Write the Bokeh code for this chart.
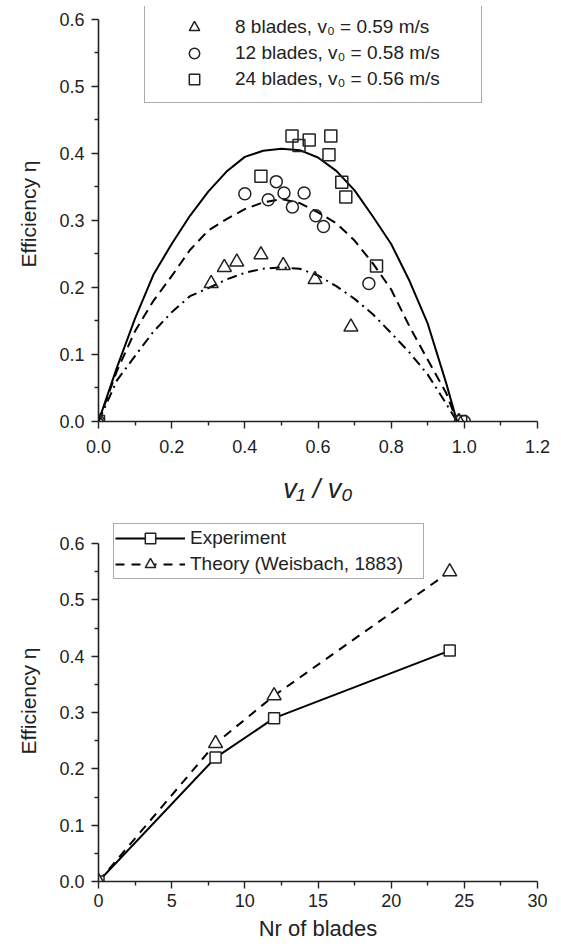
from bokeh.plotting import figure
from bokeh.layouts import column
from bokeh.models import FixedTicker, NumeralTickFormatter, Legend, LegendItem
from bokeh.embed import file_html
from bokeh.resources import INLINE

# ---------------- data: top panel (efficiency vs velocity ratio) ----------------
curve_x = [0.0, 0.05, 0.10, 0.15, 0.20, 0.25, 0.30, 0.35, 0.40, 0.45, 0.50,
           0.55, 0.60, 0.65, 0.70, 0.75, 0.80, 0.85, 0.90, 0.95, 0.98]
fit_24 = [0.0, 0.080, 0.154, 0.219, 0.265, 0.307, 0.343, 0.373, 0.395, 0.404, 0.407,
          0.405, 0.394, 0.374, 0.345, 0.306, 0.265, 0.210, 0.146, 0.058, 0.0]
fit_12 = [0.0, 0.075, 0.135, 0.180, 0.217, 0.256, 0.285, 0.302, 0.317, 0.327, 0.332,
          0.326, 0.312, 0.296, 0.270, 0.236, 0.197, 0.142, 0.092, 0.043, 0.0]
fit_8 = [0.0, 0.061, 0.098, 0.134, 0.163, 0.187, 0.199, 0.212, 0.222, 0.228, 0.230,
         0.228, 0.218, 0.202, 0.183, 0.160, 0.132, 0.103, 0.070, 0.027, 0.0]

tri_x = [0.0, 0.308, 0.344, 0.378, 0.444, 0.505, 0.592, 0.690, 0.985]
tri_y = [0.0, 0.206, 0.230, 0.238, 0.249, 0.233, 0.212, 0.141, 0.0]
circ_x = [0.0, 0.400, 0.464, 0.486, 0.507, 0.530, 0.562, 0.594, 0.615, 0.739, 1.0]
circ_y = [0.0, 0.340, 0.331, 0.358, 0.341, 0.320, 0.341, 0.307, 0.291, 0.206, 0.0]
sq_x = [0.0, 0.444, 0.529, 0.548, 0.576, 0.630, 0.635, 0.665, 0.676, 0.760, 0.99]
sq_y = [0.0, 0.366, 0.426, 0.412, 0.420, 0.398, 0.426, 0.357, 0.335, 0.232, 0.0]

series_labels = ["8 blades, v\u2080 = 0.59 m/s",
                 "12 blades, v\u2080 = 0.58 m/s",
                 "24 blades, v\u2080 = 0.56 m/s"]

top_x_ticks = [0.0, 0.2, 0.4, 0.6, 0.8, 1.0, 1.2]
top_x_minor = [0.1, 0.3, 0.5, 0.7, 0.9, 1.1]
eta_ticks = [0.0, 0.1, 0.2, 0.3, 0.4, 0.5, 0.6]
eta_minor = [0.05, 0.15, 0.25, 0.35, 0.45, 0.55]

# ---------------- data: bottom panel (efficiency vs number of blades) ----------------
blades = [0, 8, 12, 24]
eta_experiment = [0.0, 0.22, 0.29, 0.41]
eta_theory = [0.0, 0.245, 0.33, 0.55]
bottom_labels = ["Experiment", "Theory (Weisbach, 1883)"]
blade_ticks = [0, 5, 10, 15, 20, 25, 30]
blade_minor = [2.5, 7.5, 12.5, 17.5, 22.5, 27.5]

FONT = "Liberation Sans"
INK = "#222222"


def style(p, xt, xm, yt, ym, xfmt, yfmt, xb, yb):
    p.xgrid.visible = False
    p.ygrid.visible = False
    p.outline_line_color = None
    p.background_fill_color = "white"
    p.border_fill_color = "white"
    p.xaxis.ticker = FixedTicker(ticks=xt, minor_ticks=xm)
    p.yaxis.ticker = FixedTicker(ticks=yt, minor_ticks=ym)
    p.xaxis.formatter = NumeralTickFormatter(format=xfmt)
    p.yaxis.formatter = NumeralTickFormatter(format=yfmt)
    p.xaxis.bounds = xb
    p.yaxis.bounds = yb
    for ax in (p.xaxis, p.yaxis):
        ax.axis_line_color = INK
        ax.axis_line_width = 1.6
        ax.major_tick_line_color = INK
        ax.minor_tick_line_color = INK
        ax.major_tick_line_width = 1.4
        ax.minor_tick_line_width = 1.4
        ax.major_tick_in = 0
        ax.major_tick_out = 7
        ax.minor_tick_in = 0
        ax.minor_tick_out = 4
        ax.major_label_text_font = FONT
        ax.major_label_text_font_size = "18px"
        ax.major_label_text_color = INK
        ax.axis_label_text_font = FONT
        ax.axis_label_text_color = INK
        ax.axis_label_text_font_style = "normal"


# ---------------- top figure ----------------
p1 = figure(width=561, height=513, x_range=(0, 1.2), y_range=(0, 0.6194),
            output_backend="svg", toolbar_location=None,
            min_border_left=96, min_border_right=24, min_border_top=6,
            min_border_bottom=92)
style(p1, top_x_ticks, top_x_minor, eta_ticks, eta_minor, "0.0", "0.0",
      (0, 1.2), (0, 0.6))

p1.line(curve_x, fit_24, line_color="black", line_width=2)
p1.line(curve_x, fit_12, line_color="black", line_width=2, line_dash="10 6")
p1.line(curve_x, fit_8, line_color="black", line_width=2, line_dash="10 5 2 5")

r_tri = p1.scatter(tri_x, tri_y, marker="triangle", size=14, fill_color=None,
                   line_color=INK, line_width=1.5)
r_circ = p1.scatter(circ_x, circ_y, marker="circle", size=12, fill_color=None,
                    line_color=INK, line_width=1.5)
r_sq = p1.scatter(sq_x, sq_y, marker="square", size=12, fill_color=None,
                  line_color=INK, line_width=1.5)

p1.xaxis.axis_label = "v\u2081 / v\u2080"
p1.xaxis.axis_label_text_font_size = "27px"
p1.xaxis.axis_label_text_font_style = "italic"
p1.xaxis.major_label_standoff = 11
p1.xaxis.axis_label_standoff = 18
p1.yaxis.axis_label = "Efficiency \u03b7"
p1.yaxis.axis_label_text_font_size = "21px"
p1.yaxis.major_label_standoff = 7
p1.yaxis.axis_label_standoff = 16

leg1 = Legend(items=[LegendItem(label=series_labels[0], renderers=[r_tri]),
                     LegendItem(label=series_labels[1], renderers=[r_circ]),
                     LegendItem(label=series_labels[2], renderers=[r_sq])],
              location=(46, 318), margin=0, padding=10, spacing=0,
              label_height=26, glyph_height=26, glyph_width=78,
              label_standoff=2, label_width=236,
              label_text_font=FONT, label_text_font_size="19px",
              label_text_color=INK, border_line_color="#555555",
              border_line_width=1.2, background_fill_color="white",
              background_fill_alpha=1.0)
p1.add_layout(leg1)

# ---------------- bottom figure ----------------
p2 = figure(width=561, height=436, x_range=(0, 30), y_range=(0, 0.641),
            output_backend="svg", toolbar_location=None,
            min_border_left=98, min_border_right=15, min_border_top=7,
            min_border_bottom=68)
style(p2, blade_ticks, blade_minor, eta_ticks, eta_minor, "0", "0.0",
      (0, 30), (0, 0.6))

l_exp = p2.line(blades, eta_experiment, line_color="black", line_width=2)
l_th = p2.line(blades, eta_theory, line_color="black", line_width=2, line_dash="9 7")
m_exp = p2.scatter(blades, eta_experiment, marker="square", size=11,
                   fill_color="white", line_color=INK, line_width=1.5)
m_th = p2.scatter(blades, eta_theory, marker="triangle", size=14,
                  fill_color="white", line_color=INK, line_width=1.5)

p2.xaxis.axis_label = "Nr of blades"
p2.xaxis.axis_label_text_font_size = "22px"
p2.xaxis.major_label_standoff = 5
p2.xaxis.axis_label_standoff = 6
p2.yaxis.axis_label = "Efficiency \u03b7"
p2.yaxis.axis_label_text_font_size = "21px"
p2.yaxis.major_label_standoff = 7
p2.yaxis.axis_label_standoff = 16

leg2 = Legend(items=[LegendItem(label=bottom_labels[0], renderers=[l_exp, m_exp]),
                     LegendItem(label=bottom_labels[1], renderers=[l_th, m_th])],
              location=(15, 302), margin=0, padding=1, spacing=0,
              label_height=26, glyph_height=26, glyph_width=70,
              label_standoff=5, label_width=232,
              label_text_font=FONT, label_text_font_size="19px",
              label_text_color=INK, border_line_color="#555555",
              border_line_width=1.2, background_fill_color="white",
              background_fill_alpha=1.0)
p2.add_layout(leg2)

layout = column(p1, p2, spacing=0)
open("out.html", "w").write(file_html(layout, INLINE))
